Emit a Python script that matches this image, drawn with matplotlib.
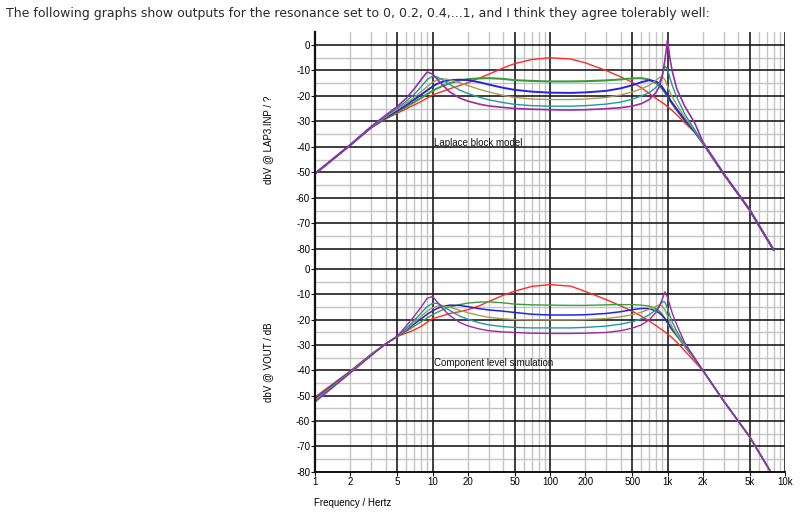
import matplotlib
matplotlib.use("Agg")
import matplotlib.pyplot as plt

# ---------------- data ----------------
freq = [1, 2, 3, 4, 5, 6, 7, 8, 9, 10, 11, 12, 14, 17, 20, 25, 30, 40, 50, 70,
        100, 150, 200, 300, 400, 500, 600, 700, 800, 850, 900, 950, 1000, 1050,
        1100, 1200, 1400, 1700, 2000, 3000, 5000, 8000]

resonance = ["0", "0.2", "0.4", "0.6", "0.8", "1"]

# Laplace block model (top panel), dBV
top_r0 = [-50.5, -39.2, -32.5, -29.0, -26.8, -25.0, -23.5, -22.2, -20.8, -19.6,
          -18.9, -18.3, -17.2, -15.9, -14.8, -13.0, -11.5, -9.0, -7.3, -5.7,
          -5.0, -5.5, -7.0, -10.0, -12.5, -14.6, -16.8, -19.0, -21.0, -21.8,
          -22.6, -23.3, -24.2, -25.0, -25.8, -27.4, -30.5, -34.2, -38.5, -50.5,
          -64.7, -80.4]
top_r02 = [-50.5, -39.2, -32.4, -28.7, -26.3, -24.2, -22.4, -20.8, -19.3, -18.0,
           -17.0, -16.2, -15.0, -13.9, -13.4, -13.1, -13.0, -13.3, -13.8, -14.1,
           -14.3, -14.3, -14.2, -13.9, -13.5, -13.1, -13.0, -13.6, -15.0, -16.0,
           -17.2, -18.6, -20.2, -21.8, -23.2, -25.6, -29.6, -34.0, -38.5, -50.5,
           -64.7, -80.4]
top_r04 = [-50.5, -39.2, -32.3, -28.5, -25.8, -23.5, -21.4, -19.5, -17.8, -16.3,
           -15.2, -14.5, -13.8, -13.6, -13.8, -14.6, -15.5, -16.8, -17.6, -18.3,
           -18.7, -18.8, -18.6, -18.0, -17.0, -15.8, -14.6, -13.8, -14.3, -15.2,
           -16.5, -18.0, -19.8, -21.5, -22.8, -25.2, -29.3, -33.9, -38.5, -50.5,
           -64.7, -80.4]
top_r06 = [-50.5, -39.2, -32.2, -28.2, -25.3, -22.8, -20.5, -18.3, -16.3, -14.7,
           -13.6, -13.2, -13.6, -14.8, -15.9, -17.4, -18.4, -19.8, -20.6, -21.2,
           -21.4, -21.4, -21.2, -20.6, -19.6, -18.4, -17.2, -15.8, -13.8, -12.8,
           -12.4, -13.6, -16.2, -18.6, -20.4, -23.4, -28.3, -33.6, -38.5, -50.5,
           -64.7, -80.4]
top_r08 = [-50.5, -39.2, -32.1, -27.9, -24.8, -22.0, -19.3, -16.4, -13.6, -12.2,
           -12.6, -13.5, -15.5, -17.7, -19.0, -20.5, -21.5, -22.6, -23.3, -23.8,
           -24.0, -24.0, -23.8, -23.2, -22.4, -21.3, -20.0, -18.7, -16.6, -14.8,
           -12.0, -8.3, -9.6, -13.0, -16.0, -20.5, -27.0, -33.2, -38.5, -50.5,
           -64.7, -80.4]
top_r10 = [-50.5, -39.2, -32.0, -27.5, -24.2, -20.8, -17.2, -13.6, -10.6, -11.4,
           -13.4, -15.4, -18.4, -20.8, -22.0, -23.2, -23.9, -24.5, -24.9, -25.2,
           -25.4, -25.5, -25.4, -25.0, -24.6, -24.0, -23.0, -21.4, -18.6, -16.4,
           -12.5, -6.0, 2.0, -5.5, -10.5, -17.2, -24.0, -30.5, -38.0, -50.5,
           -64.7, -80.4]

# Component level simulation (bottom panel), dBV
bot_r0 = [-50.5, -40.2, -33.6, -29.5, -26.6, -25.2, -24.0, -22.6, -21.0, -19.5,
          -19.0, -18.5, -17.5, -16.8, -16.0, -14.5, -12.8, -10.3, -8.7, -6.8,
          -6.1, -6.7, -8.8, -12.0, -14.5, -16.6, -18.6, -20.5, -22.3, -23.2,
          -24.0, -24.8, -25.6, -26.4, -27.2, -28.8, -32.2, -36.5, -40.0, -52.0,
          -66.2, -82.0]
bot_r02 = [-51.0, -40.4, -33.7, -29.5, -26.6, -24.5, -22.5, -20.8, -19.3, -18.0,
           -17.0, -16.2, -15.0, -14.0, -13.4, -13.0, -12.9, -13.3, -13.8, -14.1,
           -14.2, -14.3, -14.3, -14.1, -14.0, -14.0, -14.2, -14.6, -15.6, -16.5,
           -17.8, -19.5, -21.5, -23.0, -24.3, -26.5, -30.5, -35.5, -40.0, -52.0,
           -66.2, -82.0]
bot_r04 = [-51.3, -40.5, -33.8, -29.5, -26.6, -24.0, -21.6, -19.6, -17.8, -16.5,
           -15.5, -14.8, -14.2, -14.3, -14.8, -15.6, -16.1, -16.6, -17.1, -17.8,
           -18.1, -18.1, -18.0, -17.5, -16.8, -16.0, -15.5, -15.6, -16.5, -17.3,
           -18.3, -19.5, -21.0, -22.4, -23.7, -26.0, -30.3, -35.4, -40.0, -52.0,
           -66.2, -82.0]
bot_r06 = [-51.7, -40.7, -33.9, -29.5, -26.6, -23.7, -21.0, -18.6, -16.6, -15.3,
           -14.6, -14.5, -15.0, -16.2, -17.2, -18.3, -19.0, -19.6, -19.9, -20.0,
           -20.0, -20.0, -19.9, -19.5, -18.8, -18.0, -17.0, -15.8, -14.6, -14.2,
           -14.5, -16.0, -18.5, -21.0, -23.0, -25.8, -30.2, -35.3, -40.0, -52.0,
           -66.2, -82.0]
bot_r08 = [-52.0, -40.9, -34.0, -29.5, -26.6, -23.3, -20.2, -17.3, -14.8, -13.5,
           -13.5, -14.3, -16.3, -18.5, -19.8, -21.2, -22.0, -22.7, -23.0, -23.2,
           -23.2, -23.2, -23.0, -22.5, -21.7, -20.8, -19.6, -18.0, -16.0, -14.5,
           -12.8, -13.0, -15.5, -18.5, -21.0, -24.5, -29.8, -35.2, -40.0, -52.0,
           -66.2, -82.0]
bot_r10 = [-52.5, -41.0, -34.2, -29.5, -26.6, -22.3, -18.5, -15.0, -11.5, -10.8,
           -13.0, -15.2, -18.3, -21.0, -22.4, -23.6, -24.3, -24.8, -25.0, -25.3,
           -25.4, -25.4, -25.3, -25.0, -24.3, -23.3, -22.0, -20.0, -17.0, -14.8,
           -12.0, -9.0, -11.0, -14.5, -17.5, -22.0, -29.0, -35.0, -40.0, -52.0,
           -66.2, -82.0]

top_series = [top_r0, top_r02, top_r04, top_r06, top_r08, top_r10]
bot_series = [bot_r0, bot_r02, bot_r04, bot_r06, bot_r08, bot_r10]

xtick_vals = [1, 2, 5, 10, 20, 50, 100, 200, 500, 1000, 2000, 5000, 10000]
xtick_labels = ["1", "2", "5", "10", "20", "50", "100", "200", "500",
                "1k", "2k", "5k", "10k"]
ytick_vals = [0, -10, -20, -30, -40, -50, -60, -70, -80]

# ---------------- styling ----------------
colors = ["#ff2a2a", "#3c9c3c", "#2424e0", "#a89c50", "#1f9a9a", "#9c2aa8"]
widths_top = [1.0, 1.5, 1.4, 1.0, 1.0, 1.2]
widths_bot = [1.0, 1.0, 1.1, 1.0, 1.0, 1.0]

W, H = 800, 513
fig = plt.figure(figsize=(W / 100, H / 100), dpi=100)
fig.patch.set_facecolor("white")

TICKFONT = "Liberation Sans"


def setup(ax, ylo, yhi, bottom_labels):
    ax.patch.set_alpha(0.0)
    ax.set_xscale("log")
    ax.set_xlim(1, 10000)
    ax.set_ylim(ylo, yhi)
    dark = "#1c1c1c"
    light = "#c4c4c4"
    for e in range(4):
        for m in (2, 3, 4, 6, 7, 8, 9):
            ax.axvline(m * 10 ** e, color=light, lw=1.0, zorder=0)
        for m in (1, 5):
            ax.axvline(m * 10 ** e, color=dark, lw=1.2, zorder=0.5)
    ax.axvline(10000, color=dark, lw=1.2, zorder=0.5)
    for v in range(-75, 5, 10):
        ax.axhline(v, color=light, lw=1.0, zorder=0)
    for v in ytick_vals:
        ax.axhline(v, color=dark, lw=1.2, zorder=0.5)
    for s in ("top", "right", "bottom"):
        ax.spines[s].set_visible(False)
    ax.spines["left"].set_color("#111111")
    ax.spines["left"].set_linewidth(1.6)
    ax.set_yticks(ytick_vals)
    ax.set_yticklabels([str(v) for v in ytick_vals], fontsize=7,
                       family=TICKFONT)
    ax.tick_params(axis="y", length=3, width=0.8, pad=0.5, color="#111111")
    ax.minorticks_off()
    ax.set_xticks(xtick_vals)
    if bottom_labels:
        ax.set_xticklabels(xtick_labels, fontsize=7, family=TICKFONT)
        ax.tick_params(axis="x", length=3, width=0.8, pad=0.5,
                       color="#111111")
    else:
        ax.set_xticklabels([])
        ax.tick_params(axis="x", length=0)
    ax.minorticks_off()


# top panel: pixel box left 315, right 785, top 32, bottom 255
ax1 = fig.add_axes([315 / W, 1 - 255 / H, 470 / W, 223 / H])
setup(ax1, -82.4, 5.1, False)
for vals, c, lw in zip(top_series, colors, widths_top):
    ax1.plot(freq, vals, color=c, lw=lw, zorder=2)
ax1.text(10.3, -38.3, "Laplace block model", fontsize=7, family=TICKFONT,
         va="center", ha="left", color="#111111")

# bottom panel: pixel box left 315, right 785, top 255, bottom 471.7
ax2 = fig.add_axes([315 / W, 1 - 471.7 / H, 470 / W, 216.7 / H])
setup(ax2, -80.0, 5.6, True)
ax2.spines["bottom"].set_visible(True)
ax2.spines["bottom"].set_color("#111111")
ax2.spines["bottom"].set_linewidth(1.4)
for vals, c, lw in zip(bot_series, colors, widths_bot):
    ax2.plot(freq, vals, color=c, lw=lw, zorder=2)
ax2.text(10.3, -37.2, "Component level simulation", fontsize=7,
         family=TICKFONT, va="center", ha="left", color="#111111")

# axis titles
fig.text(268 / W, 1 - 140 / H, "dbV @ LAP3.INP / ?", rotation=90,
         fontsize=7, family=TICKFONT, ha="center", va="center")
fig.text(268 / W, 1 - 362 / H, "dbV @ VOUT / dB", rotation=90,
         fontsize=7, family=TICKFONT, ha="center", va="center")
fig.text(314 / W, 1 - 503 / H, "Frequency / Hertz", fontsize=7,
         family=TICKFONT, ha="left", va="center")

# page text above the charts
fig.text(6 / W, 1 - 13 / H,
         "The following graphs show outputs for the resonance set to 0, 0.2, "
         "0.4,...1, and I think they agree tolerably well:",
         fontsize=9.0, family="DejaVu Sans", color="#2a2a2a",
         ha="left", va="center")

fig.savefig("out.png", dpi=100, facecolor="white")
